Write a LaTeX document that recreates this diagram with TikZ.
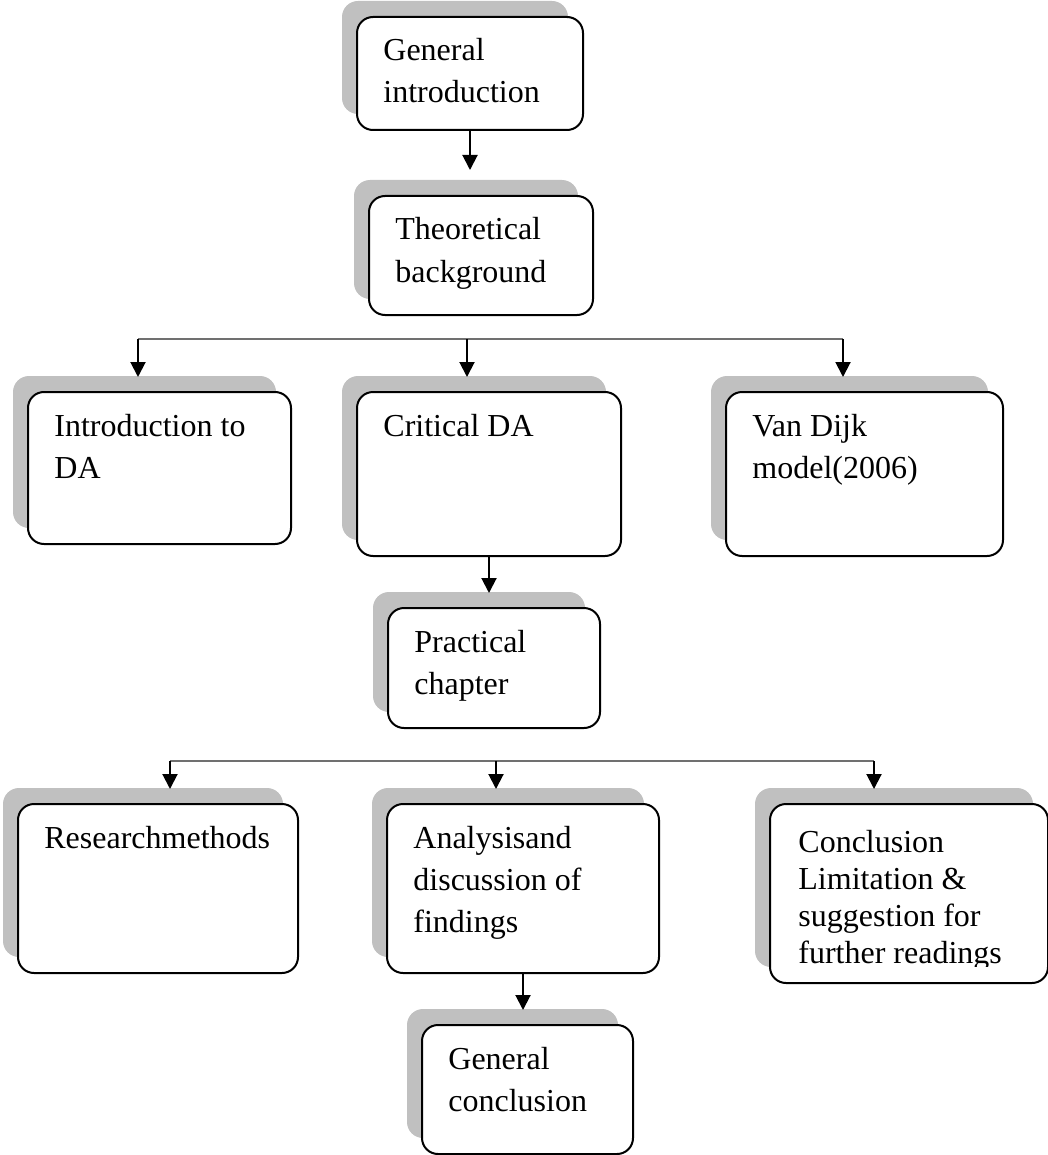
\documentclass[tikz,border=0pt]{standalone}
\usepackage{fontspec}
\setmainfont{Liberation Serif}
\usetikzlibrary{shadows}
\usetikzlibrary{arrows.meta}

\definecolor{shadowgray}{RGB}{192,192,192}
\definecolor{linegray}{RGB}{112,112,112}

% lines of a box, aligned on the first baseline
\newcommand{\chaplines}[1]{\begin{tabular}[t]{@{}l@{}}#1\end{tabular}}

\tikzset{
    chapbox/.style={draw, line width=1pt, rounded corners=8pt, fill=white, inner sep=0pt,
        drop shadow={shadow xshift=-7.5pt, shadow yshift=8pt, fill=shadowgray, opacity=1}},
    chaptext/.style={anchor=base west, inner sep=0pt,
        font=\fontsize{16}{21}\selectfont},
    down/.style={-{Triangle[length=7.5pt,width=7.5pt]}, line width=1pt, shorten >=7pt},
    branch/.style={draw=linegray, line width=1pt},
}

\begin{document}
\begin{tikzpicture}[x=0.5pt,y=-0.5pt]
            \useasboundingbox (0,0) rectangle (1048,1155);
            % boxes: name / left / top / width / height / text
            \foreach \n/\x/\y/\w/\h/\t in {
                gi/356/16/226/113/{General\\introduction},
                tb/368/195/224/119/{Theoretical\\background},
                intro/27/391/263/152/{Introduction to\\DA},
                cda/356/391/264/164/{Critical DA},
                vd/725/391/277/164/{Van Dijk\\model(2006)},
                pc/387/607/212/120/{Practical\\chapter},
                rm/17/803/280/169/{Researchmethods},
                an/386/803/272/169/{Analysisand\\discussion of\\findings},
                co/769/803/278/179/{},
                gc/421/1024/211/129/{General\\conclusion}} {
                \node[chapbox, anchor=north west, minimum width=\w*0.5pt, minimum height=\h*0.5pt] (\n) at (\x,\y) {};
                \node[chaptext] (\n-t) at (\x+27,\y+45) {\chaplines{\t}};
            }
            % last lines run past the box text area
            \begin{scope}
                \clip (769,803) rectangle (1047,966);
                \node[chaptext, font=\fontsize{16}{18.5}\selectfont] (co-t) at (798,852)
                    {\chaplines{Conclusion\\Limitation \&\\suggestion for\\further readings}};
            \end{scope}
            % straight arrows
            \draw[down, shorten >=12.5pt] (gi.south) -- (gi.south |- tb.north);
            \foreach \a/\b in {cda/pc, an/gc} {
                \draw[down] (\a.south) -- (\a.south |- \b.north);
            }
            % branches
            \coordinate (top-l) at (138,339);
            \coordinate (top-m) at (467,339);
            \coordinate (top-r) at (843,339);
            \coordinate (low-l) at (170,761);
            \coordinate (low-m) at (496,761);
            \coordinate (low-r) at (874,761);
            \draw[branch] (top-l) -- (top-r);
            \draw[branch] (low-l) -- (low-r);
            \foreach \c/\b in {top-l/intro, top-m/cda, top-r/vd, low-l/rm, low-m/an, low-r/co} {
                \draw[down] (\c) -- (\c |- \b.north);
            }
        \end{tikzpicture}
\end{document}
